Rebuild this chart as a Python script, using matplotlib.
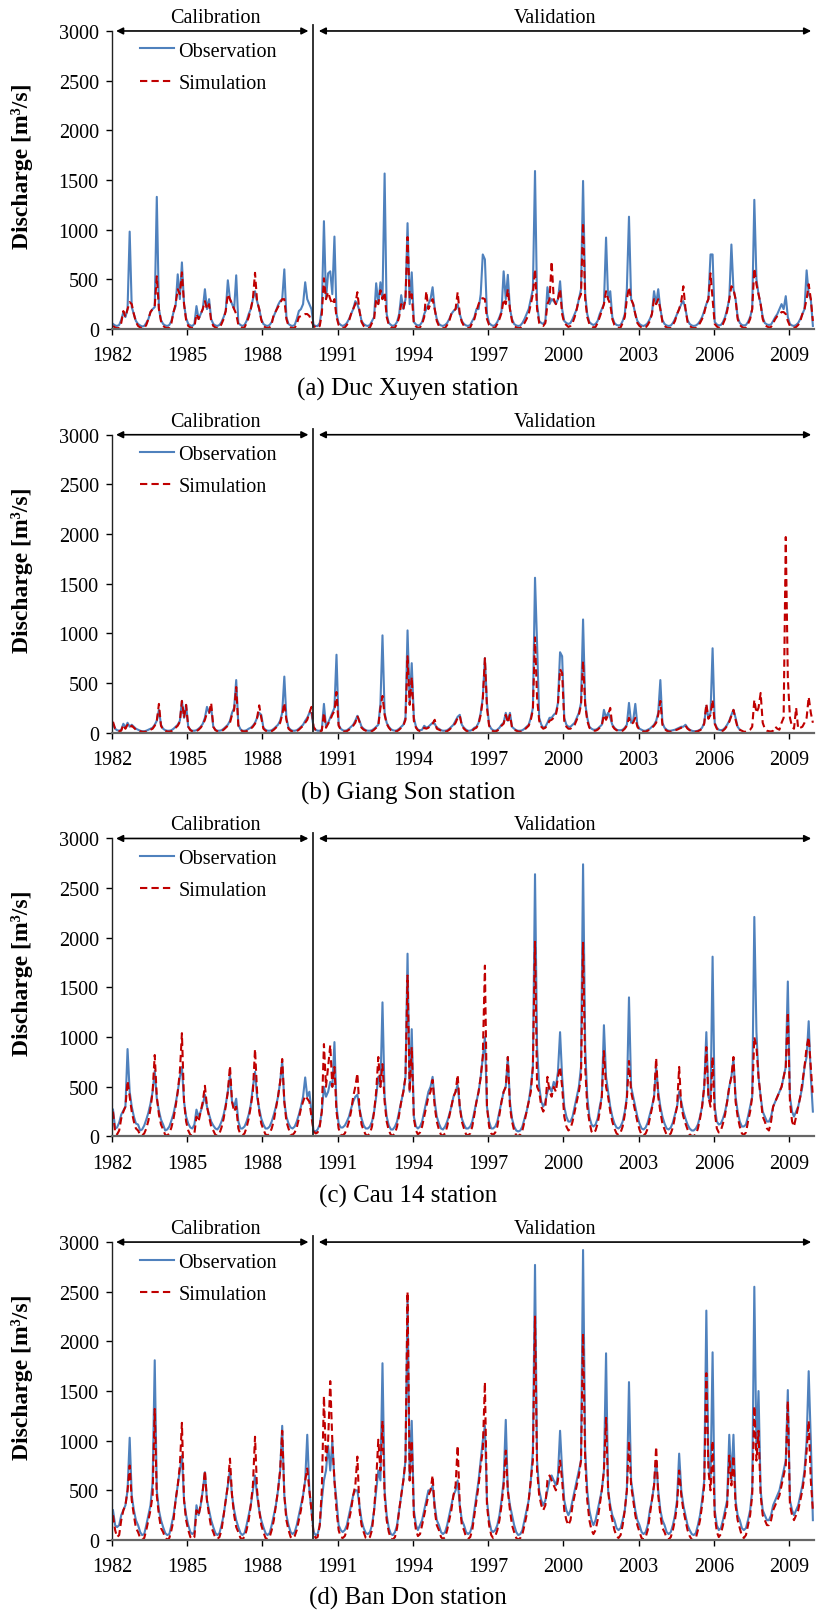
"""
Observed vs simulated daily discharge at four stations, 1982-2009
(calibration 1982-1989, validation 1990-2009).
Values are read off the figure, one row per year (Jan..Dec).
"""
import numpy as np
import pandas as pd
import matplotlib
matplotlib.use('Agg')
import matplotlib.pyplot as plt
import matplotlib.dates as mdates

plt.rcParams.update({
    'font.family':      'Liberation Serif',
    'font.size':        14,
    'axes.linewidth':   1.0,
    'xtick.labelsize':  14.5,
    'ytick.labelsize':  14.5,
    'legend.fontsize':  14.5,
    'figure.facecolor': 'white',
    'axes.facecolor':   'white',
})

YEARS = list(range(1982, 2010))

# ── (a) Duc Xuyen ───────────────────────────────────────────────────────────
DX_OBS = [
    [50, 35, 30, 40, 90, 170, 120, 200, 980, 220, 150, 80],
    [50, 35, 25, 30, 60, 100, 170, 200, 220, 1330, 200, 90],
    [50, 35, 30, 40, 80, 170, 230, 550, 300, 670, 250, 110],
    [50, 35, 30, 50, 230, 100, 150, 200, 400, 200, 300, 100],
    [50, 35, 30, 40, 70, 120, 180, 490, 300, 250, 200, 540],
    [60, 40, 30, 40, 80, 150, 200, 300, 380, 280, 200, 100],
    [50, 35, 30, 40, 70, 130, 180, 240, 280, 300, 600, 120],
    [50, 35, 30, 40, 100, 180, 200, 250, 470, 300, 250, 200],
    [40, 30, 30, 60, 200, 1085, 300, 560, 580, 350, 930, 150],
    [60, 40, 30, 40, 60, 100, 150, 200, 280, 250, 180, 80],
    [50, 35, 30, 40, 80, 120, 460, 250, 470, 300, 1565, 150],
    [60, 40, 30, 40, 70, 150, 340, 200, 300, 1065, 250, 570],
    [70, 45, 35, 40, 70, 150, 200, 250, 300, 420, 200, 100],
    [50, 35, 30, 40, 60, 100, 150, 180, 200, 250, 150, 80],
    [50, 35, 30, 40, 80, 120, 200, 200, 350, 750, 700, 150],
    [60, 40, 30, 40, 70, 120, 180, 580, 300, 545, 200, 100],
    [50, 35, 30, 35, 60, 100, 150, 200, 300, 400, 1590, 250],
    [80, 60, 50, 80, 420, 250, 300, 280, 250, 300, 480, 200],
    [80, 60, 50, 60, 100, 150, 200, 300, 400, 1490, 350, 150],
    [70, 50, 40, 50, 80, 150, 200, 250, 920, 300, 380, 120],
    [60, 40, 35, 40, 80, 150, 400, 1130, 300, 250, 150, 80],
    [50, 35, 30, 40, 60, 100, 150, 380, 250, 400, 200, 90],
    [50, 35, 30, 35, 60, 100, 150, 200, 250, 280, 200, 90],
    [50, 35, 30, 35, 50, 80, 120, 180, 250, 300, 750, 750],
    [70, 45, 35, 40, 70, 120, 200, 300, 850, 400, 300, 120],
    [60, 40, 35, 40, 70, 120, 200, 1300, 500, 350, 250, 120],
    [60, 45, 40, 45, 80, 120, 150, 200, 250, 200, 330, 120],
    [50, 35, 30, 40, 60, 100, 150, 200, 590, 350, 300, 30],
]
DX_SIM = [
    [30, 15, 8, 10, 60, 180, 120, 200, 270, 250, 150, 70],
    [30, 15, 8, 10, 40, 100, 170, 200, 230, 530, 200, 80],
    [30, 15, 8, 15, 60, 170, 250, 400, 350, 570, 250, 90],
    [30, 15, 8, 20, 150, 100, 150, 200, 280, 200, 250, 80],
    [30, 15, 8, 10, 50, 100, 180, 350, 300, 250, 200, 150],
    [40, 20, 10, 15, 60, 120, 200, 300, 565, 280, 200, 90],
    [30, 15, 8, 15, 50, 150, 180, 220, 260, 300, 300, 100],
    [30, 15, 8, 10, 50, 120, 130, 140, 150, 150, 130, 80],
    [30, 15, 10, 30, 150, 510, 300, 370, 300, 250, 300, 120],
    [40, 20, 10, 15, 40, 80, 150, 200, 250, 370, 180, 70],
    [30, 15, 8, 15, 60, 100, 300, 250, 390, 300, 370, 120],
    [40, 20, 10, 15, 50, 120, 250, 200, 300, 925, 300, 350],
    [50, 25, 10, 15, 50, 120, 380, 200, 250, 300, 200, 80],
    [30, 15, 8, 10, 40, 80, 150, 180, 200, 370, 150, 70],
    [30, 15, 8, 15, 60, 100, 180, 250, 300, 310, 300, 100],
    [40, 20, 10, 15, 50, 100, 160, 300, 250, 400, 200, 80],
    [30, 15, 8, 10, 30, 60, 100, 150, 250, 350, 600, 200],
    [60, 40, 30, 60, 250, 300, 680, 300, 250, 300, 400, 150],
    [60, 40, 20, 30, 60, 120, 200, 300, 350, 1070, 300, 120],
    [50, 30, 15, 20, 60, 120, 180, 250, 380, 300, 250, 100],
    [40, 20, 10, 15, 60, 120, 300, 420, 300, 250, 150, 60],
    [30, 15, 8, 15, 40, 80, 150, 300, 250, 300, 200, 70],
    [30, 15, 8, 10, 40, 80, 150, 200, 280, 430, 200, 70],
    [30, 15, 8, 10, 30, 60, 100, 160, 250, 300, 560, 300],
    [50, 25, 10, 15, 50, 100, 180, 300, 430, 400, 300, 100],
    [40, 20, 10, 15, 50, 100, 200, 610, 450, 350, 250, 100],
    [40, 25, 15, 20, 60, 100, 130, 150, 170, 170, 150, 80],
    [30, 15, 10, 20, 40, 80, 150, 200, 300, 450, 300, 80],
]

# ── (b) Giang Son (observations stop early 2007) ────────────────────────────
GS_OBS = [
    [80, 40, 25, 20, 30, 90, 50, 100, 60, 80, 60, 40],
    [30, 20, 15, 15, 20, 30, 40, 50, 80, 120, 230, 80],
    [40, 25, 20, 20, 25, 40, 60, 80, 120, 320, 150, 280],
    [60, 30, 20, 20, 25, 40, 60, 90, 150, 260, 200, 250],
    [60, 30, 20, 20, 25, 40, 60, 80, 120, 200, 250, 530],
    [80, 35, 20, 20, 25, 40, 50, 70, 100, 150, 200, 180],
    [50, 30, 20, 20, 25, 40, 60, 80, 120, 200, 565, 150],
    [50, 30, 20, 20, 25, 40, 60, 80, 120, 150, 200, 200],
    [50, 30, 20, 20, 30, 290, 60, 100, 150, 200, 250, 785],
    [80, 40, 25, 20, 25, 40, 60, 80, 120, 170, 120, 60],
    [40, 25, 20, 20, 25, 40, 60, 80, 290, 980, 200, 100],
    [60, 35, 25, 20, 25, 40, 60, 80, 150, 1030, 300, 700],
    [150, 60, 30, 25, 30, 70, 50, 60, 80, 100, 90, 50],
    [40, 25, 20, 20, 25, 40, 60, 80, 120, 160, 180, 80],
    [50, 30, 20, 20, 30, 50, 60, 100, 200, 350, 750, 300],
    [80, 40, 25, 20, 30, 50, 80, 100, 200, 120, 200, 60],
    [40, 25, 20, 20, 25, 40, 60, 80, 150, 250, 1560, 900],
    [150, 80, 50, 60, 100, 150, 150, 180, 200, 300, 810, 770],
    [150, 80, 60, 60, 80, 100, 150, 200, 300, 1140, 300, 150],
    [60, 40, 30, 30, 40, 60, 80, 230, 150, 200, 150, 80],
    [50, 30, 25, 25, 30, 50, 80, 300, 100, 120, 290, 80],
    [40, 30, 20, 20, 30, 40, 60, 80, 120, 200, 530, 100],
    [50, 30, 20, 20, 25, 30, 40, 50, 60, 60, 80, 50],
    [30, 20, 15, 15, 20, 30, 50, 100, 270, 150, 200, 850],
    [100, 50, 30, 25, 30, 50, 80, 120, 180, 230, 150, 60],
    [30, None, None, None, None, None, None, None, None, None, None, None],
    [None, None, None, None, None, None, None, None, None, None, None, None],
    [None, None, None, None, None, None, None, None, None, None, None, None],
]
GS_SIM = [
    [110, 40, 20, 15, 20, 80, 40, 80, 50, 70, 50, 30],
    [25, 15, 10, 8, 12, 20, 30, 40, 70, 120, 290, 70],
    [30, 20, 12, 10, 15, 30, 50, 70, 110, 320, 150, 280],
    [60, 25, 15, 12, 15, 30, 50, 80, 130, 200, 200, 300],
    [60, 25, 15, 12, 15, 30, 50, 70, 100, 180, 230, 460],
    [70, 30, 15, 12, 15, 30, 40, 60, 90, 150, 275, 150],
    [40, 20, 12, 10, 15, 30, 50, 70, 100, 180, 300, 130],
    [40, 20, 12, 10, 15, 30, 50, 70, 100, 130, 200, 260],
    [60, 25, 15, 12, 20, 200, 50, 90, 130, 180, 220, 410],
    [70, 30, 15, 12, 15, 30, 50, 70, 100, 170, 110, 50],
    [30, 20, 12, 10, 15, 30, 50, 70, 250, 370, 180, 90],
    [50, 25, 15, 12, 15, 30, 50, 70, 130, 770, 280, 560],
    [120, 50, 25, 15, 20, 50, 40, 50, 70, 90, 130, 40],
    [30, 20, 12, 10, 15, 30, 50, 70, 100, 150, 170, 70],
    [40, 20, 12, 10, 20, 40, 50, 90, 180, 330, 750, 250],
    [70, 30, 15, 12, 20, 40, 70, 90, 180, 100, 180, 50],
    [30, 20, 12, 10, 15, 30, 50, 70, 130, 230, 960, 350],
    [120, 60, 40, 50, 80, 120, 130, 150, 180, 280, 640, 600],
    [120, 60, 40, 40, 60, 80, 130, 180, 280, 720, 280, 120],
    [50, 30, 20, 20, 30, 50, 70, 180, 130, 180, 250, 70],
    [40, 25, 15, 15, 20, 40, 70, 150, 90, 100, 150, 60],
    [30, 20, 12, 10, 20, 30, 50, 70, 100, 180, 320, 80],
    [40, 20, 12, 10, 15, 25, 30, 40, 50, 50, 70, 40],
    [25, 15, 10, 10, 15, 25, 40, 90, 290, 140, 180, 330],
    [90, 40, 20, 15, 20, 40, 70, 110, 170, 230, 130, 50],
    [30, 20, 10, 10, 15, 30, 60, 330, 200, 250, 400, 100],
    [40, 20, 15, 12, 20, 60, 40, 30, 100, 150, 1970, 550],
    [150, 60, 40, 250, 40, 50, 60, 100, 150, 360, 200, 100],
]

# ── (c) Cau 14 ──────────────────────────────────────────────────────────────
C14_OBS = [
    [270, 80, 90, 140, 220, 260, 300, 880, 450, 300, 200, 130],
    [120, 60, 70, 110, 170, 240, 330, 450, 660, 380, 260, 170],
    [120, 60, 70, 100, 160, 230, 330, 450, 600, 700, 350, 200],
    [130, 90, 80, 120, 270, 200, 250, 320, 420, 300, 220, 150],
    [110, 80, 70, 100, 150, 220, 320, 450, 620, 350, 300, 380],
    [150, 80, 80, 100, 150, 220, 320, 500, 650, 400, 280, 180],
    [120, 80, 80, 100, 150, 220, 300, 400, 550, 760, 350, 200],
    [130, 90, 80, 100, 150, 220, 300, 400, 594, 400, 450, 250],
    [60, 50, 70, 120, 250, 500, 400, 450, 550, 500, 950, 300],
    [130, 90, 90, 110, 150, 200, 280, 350, 400, 420, 280, 180],
    [110, 80, 80, 100, 150, 250, 400, 600, 500, 1350, 400, 200],
    [110, 70, 70, 100, 150, 250, 350, 450, 600, 1840, 450, 1080],
    [200, 100, 80, 100, 150, 250, 350, 450, 500, 600, 350, 200],
    [130, 80, 70, 100, 150, 220, 300, 400, 450, 520, 300, 180],
    [120, 80, 80, 100, 150, 250, 350, 450, 600, 800, 1000, 300],
    [150, 80, 80, 100, 150, 250, 350, 450, 500, 800, 350, 180],
    [100, 60, 50, 60, 100, 180, 250, 350, 500, 700, 2640, 900],
    [500, 350, 300, 350, 450, 500, 450, 550, 500, 650, 1050, 600],
    [300, 200, 150, 150, 200, 300, 400, 500, 700, 2740, 900, 400],
    [200, 120, 100, 120, 180, 300, 400, 1120, 600, 450, 300, 200],
    [130, 90, 80, 100, 150, 250, 400, 1400, 500, 400, 300, 200],
    [130, 80, 70, 90, 140, 220, 300, 400, 700, 450, 300, 200],
    [130, 80, 70, 90, 140, 220, 300, 450, 350, 250, 180, 120],
    [80, 60, 60, 80, 120, 200, 300, 500, 1050, 400, 350, 1810],
    [300, 150, 120, 130, 180, 250, 350, 500, 600, 780, 400, 250],
    [150, 100, 100, 120, 200, 300, 400, 2210, 1050, 600, 400, 250],
    [200, 150, 150, 200, 300, 350, 400, 450, 500, 600, 700, 1560],
    [400, 250, 200, 250, 300, 400, 500, 700, 800, 1160, 600, 250],
]
C14_SIM = [
    [250, 40, 20, 60, 180, 250, 300, 560, 400, 250, 150, 80],
    [60, 15, 10, 30, 80, 160, 280, 450, 820, 400, 220, 120],
    [70, 15, 10, 30, 90, 180, 300, 450, 650, 1040, 350, 150],
    [60, 15, 10, 30, 200, 150, 250, 350, 510, 300, 200, 100],
    [60, 15, 10, 30, 90, 180, 300, 450, 710, 350, 250, 300],
    [80, 20, 10, 30, 90, 180, 300, 450, 880, 450, 250, 130],
    [70, 20, 10, 30, 80, 160, 280, 400, 550, 780, 350, 150],
    [80, 20, 15, 40, 90, 180, 280, 350, 410, 380, 350, 200],
    [50, 30, 40, 100, 250, 930, 500, 700, 920, 500, 700, 250],
    [80, 20, 10, 30, 80, 150, 250, 400, 500, 635, 280, 120],
    [60, 15, 10, 30, 100, 250, 450, 800, 500, 728, 350, 150],
    [60, 15, 10, 30, 100, 220, 350, 450, 600, 1620, 450, 900],
    [180, 60, 20, 40, 100, 200, 300, 400, 450, 570, 300, 150],
    [70, 15, 10, 30, 100, 200, 300, 400, 450, 620, 300, 150],
    [80, 20, 10, 30, 100, 220, 350, 450, 600, 800, 1720, 300],
    [100, 30, 15, 40, 100, 220, 350, 450, 500, 800, 300, 150],
    [60, 10, 5, 20, 60, 150, 250, 350, 450, 700, 1960, 500],
    [450, 300, 250, 300, 600, 450, 400, 500, 450, 600, 700, 500],
    [200, 100, 60, 80, 150, 250, 350, 450, 600, 1950, 700, 300],
    [150, 50, 30, 60, 130, 250, 400, 860, 500, 400, 250, 150],
    [80, 30, 15, 40, 100, 220, 380, 760, 450, 350, 250, 150],
    [70, 15, 10, 30, 80, 180, 280, 400, 790, 400, 250, 130],
    [70, 15, 10, 30, 90, 200, 300, 700, 300, 200, 130, 70],
    [20, 5, 5, 20, 80, 180, 300, 500, 900, 400, 300, 800],
    [250, 80, 40, 60, 130, 220, 350, 500, 600, 800, 350, 200],
    [100, 30, 15, 40, 150, 250, 400, 1000, 900, 600, 400, 200],
    [150, 80, 60, 150, 300, 350, 400, 450, 500, 600, 700, 1250],
    [350, 150, 100, 200, 300, 400, 550, 700, 900, 1000, 700, 400],
]

# ── (d) Ban Don ─────────────────────────────────────────────────────────────
BD_OBS = [
    [300, 150, 130, 150, 250, 300, 350, 500, 1030, 450, 300, 200],
    [150, 80, 50, 60, 150, 250, 350, 580, 1810, 500, 300, 200],
    [130, 70, 50, 60, 150, 250, 400, 550, 700, 850, 400, 250],
    [150, 80, 60, 80, 350, 250, 350, 500, 683, 400, 300, 200],
    [130, 70, 50, 70, 150, 250, 400, 550, 700, 450, 300, 200],
    [130, 70, 50, 70, 150, 250, 350, 500, 650, 450, 300, 200],
    [130, 70, 50, 70, 150, 250, 350, 500, 700, 1150, 450, 250],
    [150, 80, 60, 80, 150, 250, 350, 450, 600, 1060, 500, 300],
    [80, 50, 60, 150, 400, 600, 700, 950, 700, 1000, 600, 400],
    [150, 100, 80, 100, 150, 250, 350, 450, 500, 500, 350, 200],
    [120, 70, 60, 80, 150, 300, 500, 700, 600, 1780, 500, 250],
    [120, 60, 50, 80, 150, 300, 450, 600, 800, 2450, 600, 1200],
    [300, 150, 100, 150, 200, 300, 400, 500, 500, 550, 350, 200],
    [150, 80, 60, 80, 150, 250, 350, 450, 500, 600, 350, 200],
    [150, 80, 60, 80, 150, 300, 450, 600, 800, 1000, 1150, 400],
    [200, 100, 80, 100, 150, 250, 400, 600, 1210, 500, 350, 250],
    [150, 80, 50, 60, 100, 200, 300, 400, 600, 900, 2770, 800],
    [500, 400, 350, 400, 500, 600, 650, 600, 550, 650, 1100, 700],
    [400, 300, 250, 300, 400, 500, 600, 700, 800, 2920, 900, 500],
    [300, 200, 150, 200, 300, 400, 500, 700, 1880, 500, 350, 250],
    [200, 120, 100, 120, 200, 300, 500, 1590, 600, 450, 300, 200],
    [150, 80, 60, 80, 150, 300, 400, 550, 800, 500, 300, 200],
    [150, 80, 60, 80, 150, 250, 400, 870, 500, 350, 250, 150],
    [100, 60, 50, 70, 150, 250, 400, 600, 2310, 800, 600, 1890],
    [300, 150, 100, 120, 200, 300, 400, 1060, 600, 1060, 400, 250],
    [200, 120, 100, 120, 200, 300, 500, 2550, 900, 1500, 500, 300],
    [250, 200, 200, 250, 350, 400, 450, 500, 600, 700, 800, 1510],
    [400, 300, 250, 300, 350, 450, 550, 700, 1000, 1700, 1000, 200],
]
BD_SIM = [
    [250, 100, 30, 50, 200, 300, 350, 500, 750, 400, 250, 120],
    [80, 20, 5, 20, 100, 200, 300, 450, 1320, 450, 250, 120],
    [80, 20, 5, 20, 100, 200, 400, 550, 750, 1180, 400, 200],
    [100, 30, 10, 30, 300, 250, 350, 500, 700, 400, 250, 130],
    [80, 20, 10, 30, 100, 250, 400, 550, 820, 450, 250, 130],
    [80, 20, 10, 30, 100, 200, 350, 550, 1040, 500, 300, 150],
    [80, 20, 10, 30, 100, 200, 350, 500, 700, 1100, 450, 200],
    [100, 30, 15, 40, 100, 200, 300, 450, 600, 720, 500, 300],
    [60, 20, 30, 150, 500, 1450, 800, 1000, 1600, 1000, 600, 300],
    [100, 30, 20, 40, 100, 200, 300, 450, 550, 840, 300, 150],
    [80, 20, 10, 30, 100, 300, 600, 1010, 700, 1200, 450, 200],
    [80, 15, 5, 30, 120, 300, 450, 600, 800, 2500, 600, 1000],
    [250, 100, 40, 60, 150, 250, 350, 450, 500, 650, 300, 150],
    [100, 30, 10, 30, 100, 200, 300, 450, 550, 950, 350, 150],
    [100, 30, 10, 30, 100, 250, 400, 550, 750, 900, 1590, 350],
    [150, 50, 20, 40, 100, 200, 350, 550, 900, 500, 300, 150],
    [80, 20, 5, 20, 60, 150, 250, 400, 600, 800, 2250, 700],
    [450, 350, 300, 350, 600, 650, 600, 550, 500, 600, 800, 600],
    [300, 200, 150, 200, 350, 450, 550, 650, 800, 2080, 800, 400],
    [200, 100, 60, 100, 200, 350, 500, 700, 1230, 500, 300, 200],
    [100, 40, 20, 50, 150, 300, 500, 1000, 550, 400, 250, 150],
    [80, 20, 5, 30, 100, 250, 400, 550, 940, 450, 250, 120],
    [80, 20, 5, 30, 100, 200, 350, 700, 450, 300, 200, 100],
    [40, 5, 0, 20, 100, 200, 350, 550, 1680, 700, 500, 1000],
    [250, 80, 30, 60, 150, 250, 350, 850, 550, 850, 350, 200],
    [120, 40, 20, 50, 150, 250, 450, 1350, 800, 1100, 450, 250],
    [200, 150, 150, 200, 300, 350, 400, 450, 550, 650, 750, 1400],
    [350, 250, 200, 250, 300, 400, 500, 650, 900, 1200, 600, 300],
]

TITLES = ['(a) Duc Xuyen station', '(b) Giang Son station',
          '(c) Cau 14 station', '(d) Ban Don station']
OBS = [DX_OBS, GS_OBS, C14_OBS, BD_OBS]
SIM = [DX_SIM, GS_SIM, C14_SIM, BD_SIM]

OBS_COLOR = '#4F81BD'
SIM_COLOR = '#C00000'

# mid-month dates
dates = pd.date_range(f'{YEARS[0]}-01-01', periods=len(YEARS) * 12, freq='MS') \
    + pd.Timedelta(days=14)
split = pd.Timestamp('1990-01-01')
x0, x1 = pd.Timestamp('1982-01-01'), pd.Timestamp('2010-01-01')
tick_dates = [pd.Timestamp(f'{y}-01-01') for y in range(1982, 2010, 3)]

fig = plt.figure(figsize=(8.16, 16.15), dpi=100)

bottoms = [0.7957, 0.5457, 0.2957, 0.0458]
title_y = [0.7591, 0.5090, 0.2594, 0.0105]

for i in range(4):
    ax = fig.add_axes([0.1373, bottoms[i], 0.8603, 0.1845])
    obs = np.array(OBS[i], dtype=float).ravel()
    sim = np.array(SIM[i], dtype=float).ravel()

    ax.plot(dates, obs, color=OBS_COLOR, lw=1.5, label='Observation')
    ax.plot(dates, sim, color=SIM_COLOR, lw=1.5, linestyle=(0, (3.5, 2)),
            label='Simulation')

    ax.set_xlim(x0, x1)
    ax.set_ylim(0, 3000)
    ax.set_yticks(range(0, 3001, 500))
    ax.set_xticks(tick_dates)
    ax.xaxis.set_major_formatter(mdates.DateFormatter('%Y'))
    ax.tick_params(axis='y', direction='out', length=4.5, width=1, pad=5)
    ax.tick_params(axis='x', direction='out', length=4.5, width=1, pad=8)

    for s in ['top', 'right']:
        ax.spines[s].set_visible(False)
    ax.spines['left'].set_color('#222222')
    ax.spines['bottom'].set_color('#666666')
    ax.spines['bottom'].set_linewidth(1.6)

    ax.set_ylabel('Discharge [m³/s]', fontweight='bold', fontsize=17)
    ax.yaxis.set_label_coords(-0.113, 0.55)

    # calibration / validation split
    ax.plot([split, split], [0, 3060], color='#222222', lw=1.3, clip_on=False)

    arrow = dict(arrowstyle='<|-|>', color='black', lw=1.2,
                 mutation_scale=10, shrinkA=0, shrinkB=0)
    ax.annotate('', xy=(pd.Timestamp('1989-11-01'), 3000),
                xytext=(pd.Timestamp('1982-03-01'), 3000),
                arrowprops=arrow, annotation_clip=False)
    ax.annotate('', xy=(pd.Timestamp('2009-11-20'), 3000),
                xytext=(pd.Timestamp('1990-04-01'), 3000),
                arrowprops=arrow, annotation_clip=False)
    ax.annotate('Calibration', xy=(pd.Timestamp('1986-02-15'), 3000),
                xytext=(0, 3), textcoords='offset points',
                ha='center', va='bottom', fontsize=14.5, annotation_clip=False)
    ax.annotate('Validation', xy=(pd.Timestamp('1999-09-01'), 3000),
                xytext=(0, 3), textcoords='offset points',
                ha='center', va='bottom', fontsize=14.5, annotation_clip=False)

    ax.legend(loc='upper left', bbox_to_anchor=(0.04, 0.965), frameon=False,
              borderpad=0, borderaxespad=0, handlelength=1.7,
              handletextpad=0.2, labelspacing=0.65)

    fig.text(0.5, title_y[i], TITLES[i], ha='center', va='center', fontsize=18)

fig.savefig('out.png', dpi=100)
